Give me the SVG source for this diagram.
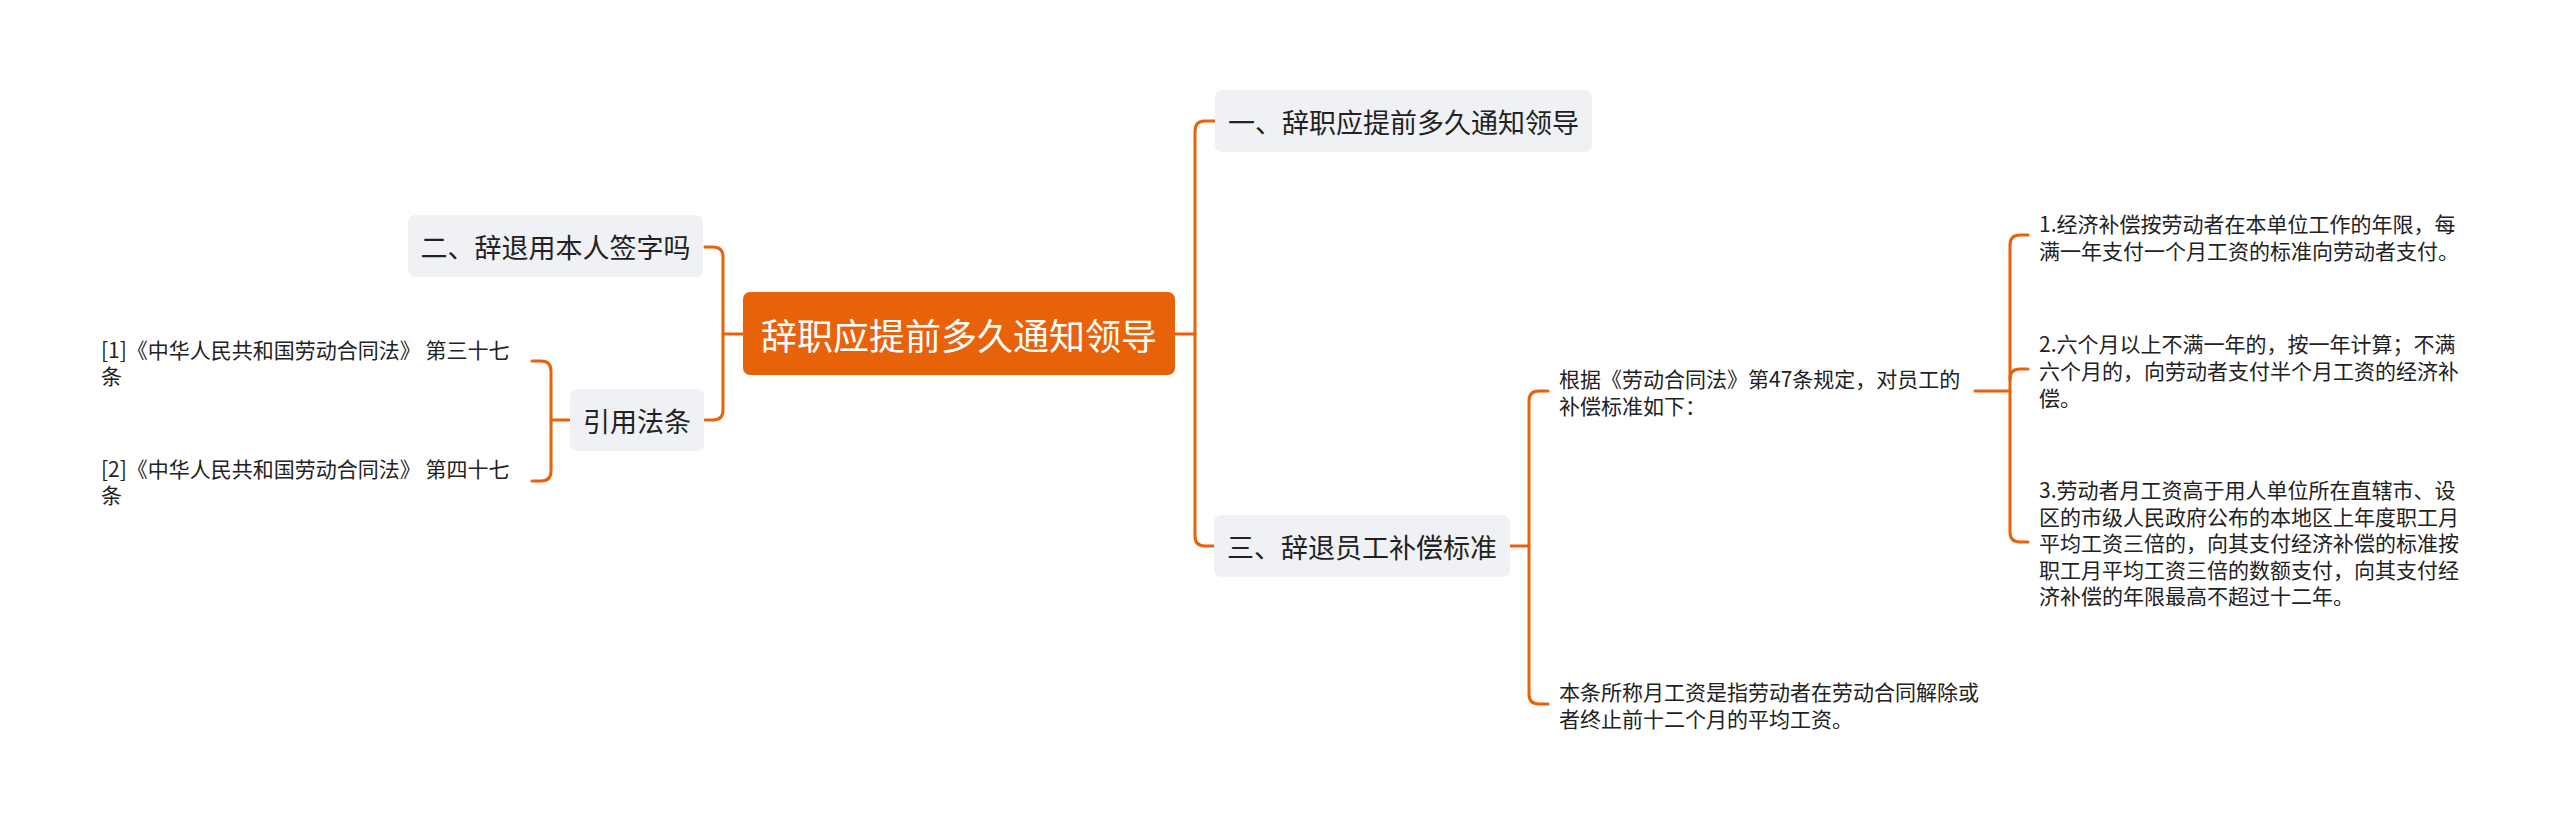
<svg xmlns="http://www.w3.org/2000/svg" width="2560" height="831" viewBox="0 0 2560 831">
<style>
.bg{fill:#ffffff}
.sub{fill:#EFF1F4}
.root{fill:#E8620A}
.t{font-family:"Noto Sans CJK SC","Noto Sans",sans-serif;dominant-baseline:central;fill:#222222}
.rt{font-size:36px;fill:#ffffff;text-anchor:middle}
.st{font-size:27px;text-anchor:middle}
.lt{font-size:21px}
.c{fill:none;stroke:#E8620A;stroke-width:3;stroke-linecap:round;stroke-linejoin:round}
</style>
<rect class="bg" x="0" y="0" width="2560" height="831"/>
<g id="connectors">
<path class="c" d="M743,334 H723"/>
<path class="c" d="M705,247 H713 Q723,247 723,257 V410 Q723,420 713,420 H705"/>
<path class="c" d="M532,361 H541 Q551,361 551,371 V471 Q551,481 541,481 H532"/>
<path class="c" d="M551,420 H570"/>
<path class="c" d="M1175,334 H1195"/>
<path class="c" d="M1215,121 H1205 Q1195,121 1195,131 V536 Q1195,546 1205,546 H1214"/>
<path class="c" d="M1510,546 H1529"/>
<path class="c" d="M1548,391 H1539 Q1529,391 1529,401 V694 Q1529,704 1539,704 H1548"/>
<path class="c" d="M1975,391 H2010"/>
<path class="c" d="M2028,235 H2020 Q2010,235 2010,245 V532 Q2010,542 2020,542 H2028"/>
<path class="c" d="M2010,379 Q2010,369 2020,369 H2028"/>
</g>
<g id="root">
<rect class="root" x="743" y="292" width="432" height="83" rx="7"/>
<text class="t rt" x="959" y="333.5">辞职应提前多久通知领导</text>
</g>
<g id="n1">
<rect class="sub" x="1215" y="90" width="377" height="62" rx="7"/>
<text class="t st" x="1403.5" y="121">一、辞职应提前多久通知领导</text>
</g>
<g id="n2">
<rect class="sub" x="408" y="215" width="295" height="62" rx="7"/>
<text class="t st" x="555.5" y="246">二、辞退用本人签字吗</text>
</g>
<g id="n3">
<rect class="sub" x="1214" y="515" width="296" height="62" rx="7"/>
<text class="t st" x="1362" y="546">三、辞退员工补偿标准</text>
</g>
<g id="n4">
<rect class="sub" x="570" y="389" width="134" height="62" rx="7"/>
<text class="t st" x="637" y="420">引用法条</text>
</g>
<g id="ref1">
<text class="t lt" x="101" y="349">[1]《中华人民共和国劳动合同法》 第三十七</text>
<text class="t lt" x="101" y="375">条</text>
</g>
<g id="ref2">
<text class="t lt" x="101" y="468">[2]《中华人民共和国劳动合同法》 第四十七</text>
<text class="t lt" x="101" y="494">条</text>
</g>
<g id="n3a">
<text class="t lt" x="1559" y="378">根据《劳动合同法》第47条规定，对员工的</text>
<text class="t lt" x="1559" y="405">补偿标准如下：</text>
</g>
<g id="n3b">
<text class="t lt" x="1559" y="691">本条所称月工资是指劳动者在劳动合同解除或</text>
<text class="t lt" x="1559" y="718">者终止前十二个月的平均工资。</text>
</g>
<g id="i1">
<text class="t lt" x="2039" y="223">1.经济补偿按劳动者在本单位工作的年限，每</text>
<text class="t lt" x="2039" y="250">满一年支付一个月工资的标准向劳动者支付。</text>
</g>
<g id="i2">
<text class="t lt" x="2039" y="343">2.六个月以上不满一年的，按一年计算；不满</text>
<text class="t lt" x="2039" y="370">六个月的，向劳动者支付半个月工资的经济补</text>
<text class="t lt" x="2039" y="397">偿。</text>
</g>
<g id="i3">
<text class="t lt" x="2039" y="489">3.劳动者月工资高于用人单位所在直辖市、设</text>
<text class="t lt" x="2039" y="515.5">区的市级人民政府公布的本地区上年度职工月</text>
<text class="t lt" x="2039" y="542">平均工资三倍的，向其支付经济补偿的标准按</text>
<text class="t lt" x="2039" y="568.5">职工月平均工资三倍的数额支付，向其支付经</text>
<text class="t lt" x="2039" y="595">济补偿的年限最高不超过十二年。</text>
</g>
</svg>
